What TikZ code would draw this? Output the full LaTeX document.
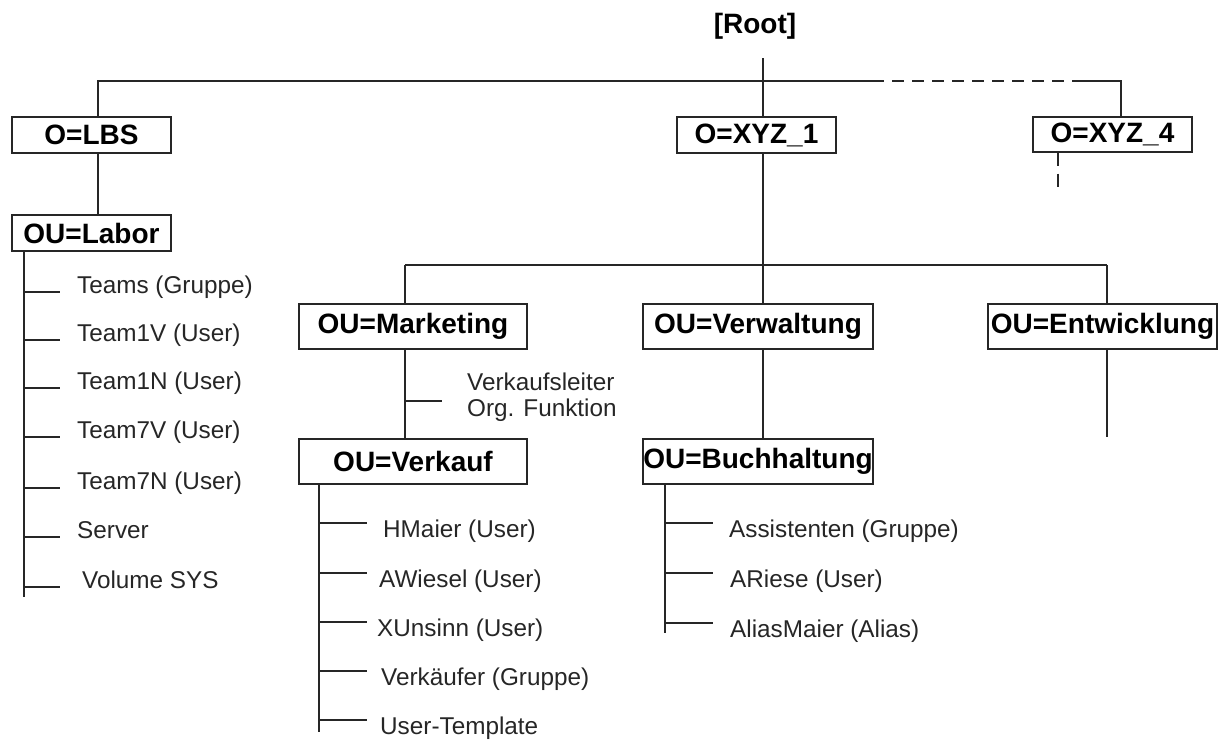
\documentclass[tikz,border=0pt]{standalone}
\usepackage{fontspec}
\setmainfont{Liberation Sans}
\begin{document}
\begin{tikzpicture}[x=1pt,y=-1pt,
  ln/.style={line width=1.2pt, draw=black!85},
  dsh/.style={ln, dash pattern=on 12pt off 8pt},
  box/.style={draw=black!85, line width=1.2pt, inner sep=0pt, font=\fontsize{28}{30}\selectfont\bfseries},
  ttl/.style={inner sep=0pt, font=\fontsize{28}{30}\selectfont\bfseries},
  item/.style={anchor=base west, inner sep=0pt, font=\fontsize{24.3}{26}\selectfont, text=black!85}]
\useasboundingbox (0,0) rectangle (1228,740);

% title
\node[ttl] (root) at (755,26) {[Root]};

% boxes
\node[box, minimum width=159pt, minimum height=36pt] (lbs)   at (91.5,135)   {\makebox[0pt]{O=LBS}};
\node[box, minimum width=159pt, minimum height=36pt] (xyz1)  at (756.5,135)  {\makebox[0pt]{O=XYZ\_1}};
\node[box, minimum width=159pt, minimum height=35pt] (xyz4)  at (1112.5,134.5) {\makebox[0pt]{O=XYZ\_4}};
\node[box, minimum width=159pt, minimum height=36pt] (labor) at (91.5,233)   {\makebox[0pt]{OU=Labor}};
\node[box, minimum width=228pt, minimum height=45pt] (mkt)   at (413,326.5)  {\makebox[0pt]{OU=Marketing}};
\node[box, minimum width=230pt, minimum height=45pt] (verw)  at (758,326.5)  {\makebox[0pt]{OU=Verwaltung}};
\node[box, minimum width=229pt, minimum height=45pt] (entw)  at (1102.5,326.5) {\makebox[0pt]{OU=Entwicklung}};
\node[box, minimum width=228pt, minimum height=45pt] (verk)  at (413,461.5)  {\makebox[0pt]{OU=Verkauf}};
\node[box, minimum width=230pt, minimum height=45pt] (buch)  at (758,461.5)  {\makebox[0pt]{OU=Buchhaltung}};

% top level connectors
\coordinate (rtop) at (763,58);
\coordinate (hl) at (98,81);
\coordinate (dsA) at (872,81);
\coordinate (dsB) at (1083,81);
\coordinate (hr) at (1121,81);
\draw[ln] (rtop) -- (rtop |- xyz1.north);
\draw[ln] (lbs.north -| hl) -- (hl) -- (dsA);
\draw[dsh] (dsA) -- (dsB);
\draw[ln] (dsB) -- (hr) -- (hr |- xyz4.north);
\draw[ln] (lbs.south -| hl) -- (labor.north -| hl);
\coordinate (x4d) at (1058,192);
\draw[ln, dash pattern=on 13pt off 8pt] (xyz4.south -| x4d) -- (x4d);

% second level
\coordinate (h2l) at (405,265);
\coordinate (h2m) at (763,265);
\coordinate (h2r) at (1107,265);
\draw[ln] (xyz1.south -| h2m) -- (h2m);
\draw[ln] (h2l) -- (h2r);
\draw[ln] (h2l) -- (h2l |- mkt.north);
\draw[ln] (h2m) -- (h2m |- verw.north);
\draw[ln] (h2r) -- (h2r |- entw.north);
\draw[ln] (mkt.south -| h2l) -- (verk.north -| h2l);
\draw[ln] (verw.south -| h2m) -- (buch.north -| h2m);
\coordinate (entwend) at (1107,437);
\draw[ln] (entw.south -| entwend) -- (entwend);

% Verkaufsleiter
\coordinate (vb) at (405,401);
\coordinate (vbe) at (442,401);
\draw[ln] (vb) -- (vbe);
\node[item, anchor=north west, align=left] (vkl) at (467,373) {Verkaufsleiter\\Org. Funktion};

% Labor list
\coordinate (labend) at (24,597);
\draw[ln] (labor.south -| labend) -- (labend);
\foreach \t/\y/\x [count=\i] in {Teams (Gruppe)/292/77, Team1V (User)/340/77, Team1N (User)/388/77, Team7V (User)/437/77, Team7N (User)/488/77, Server/537/77, Volume SYS/587/82}{
  \coordinate (labs\i) at (24,\y);
  \coordinate (labe\i) at (60,\y);
  \draw[ln] (labs\i) -- (labe\i);
  \node[item] (lab\i) at (\x,\y+1) {\t};
}

% Verkauf list
\coordinate (vkend) at (319,732);
\draw[ln] (verk.south -| vkend) -- (vkend);
\foreach \t/\y/\x [count=\i] in {HMaier (User)/523/383, AWiesel (User)/573/379, XUnsinn (User)/622/377, Verkäufer (Gruppe)/671/381, User-Template/720/380}{
  \coordinate (vks\i) at (319,\y);
  \coordinate (vke\i) at (367,\y);
  \draw[ln] (vks\i) -- (vke\i);
  \node[item] (vk\i) at (\x,\y+14) {\t};
}

% Buchhaltung list
\coordinate (bhend) at (665,633);
\draw[ln] (buch.south -| bhend) -- (bhend);
\foreach \t/\y/\x [count=\i] in {Assistenten (Gruppe)/523/729, ARiese (User)/573/730, AliasMaier (Alias)/623/730}{
  \coordinate (bhs\i) at (665,\y);
  \coordinate (bhe\i) at (713,\y);
  \draw[ln] (bhs\i) -- (bhe\i);
  \node[item] (bh\i) at (\x,\y+14) {\t};
}
\end{tikzpicture}
\end{document}
